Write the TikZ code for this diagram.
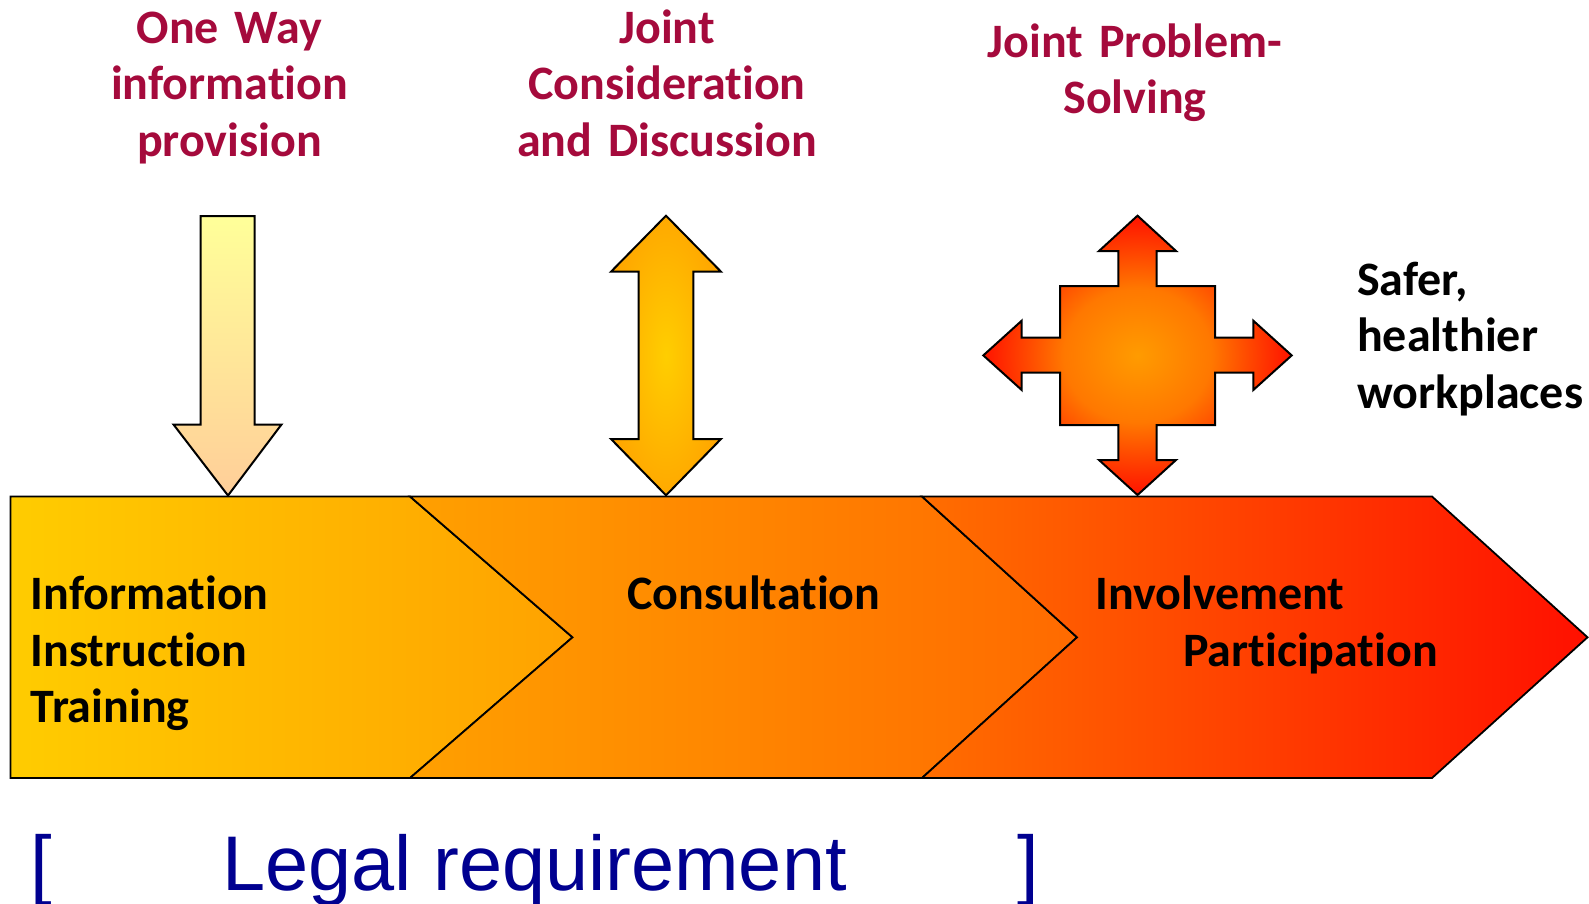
\documentclass[tikz,border=0pt]{standalone}
\usepackage{fontspec}
\setmainfont{Carlito}[Ligatures=CommonOff]
\newfontfamily\legalfont{Liberation Sans}
\definecolor{crimson}{HTML}{A50A3C}
\definecolor{navy}{HTML}{000090}
\pgfdeclareradialshading{consultglow}{\pgfpoint{0bp}{0bp}}{%
  color(0bp)=(rgb,255:red,255;green,206;blue,0);
  color(20bp)=(rgb,255:red,255;green,176;blue,0);
  color(35bp)=(rgb,255:red,255;green,155;blue,0);
  color(50bp)=(rgb,255:red,255;green,150;blue,0)}
\pgfdeclareradialshading{involveglow}{\pgfpoint{0bp}{0bp}}{%
  color(0bp)=(rgb,255:red,255;green,155;blue,0);
  color(12bp)=(rgb,255:red,255;green,120;blue,0);
  color(18bp)=(rgb,255:red,255;green,72;blue,0);
  color(24bp)=(rgb,255:red,255;green,26;blue,0);
  color(50bp)=(rgb,255:red,255;green,16;blue,0)}
\begin{document}
\begin{tikzpicture}[
  x=1pt, y=-1pt,
  chev/.style={draw=black, line width=1.8pt, line join=miter},
  arr/.style={draw=black, line width=2pt, line join=miter},
  toplbl/.style={font=\bfseries\fontsize{48}{56.7}\selectfont, text=crimson, align=center, text width=420pt, inner sep=0pt, anchor=base},
  bodytxt/.style={font=\bfseries\fontsize{48}{56.7}\selectfont, text=black, align=left, text width=420pt, inner sep=0pt, anchor=base west},
  legal/.style={font=\legalfont\fontsize{77.5}{90}\selectfont, text=navy, inner sep=0pt, anchor=base west}
]
\path[fill=white, use as bounding box] (0,0) rectangle (1589,904);

\draw[chev, left color={rgb,255:red,255;green,204;blue,0}, right color={rgb,255:red,255;green,162;blue,0}]
  (10.5,496.5) -- (410,496.5) -- (572.5,637.3) -- (410,778) -- (10.5,778) -- cycle;
\draw[chev, left color={rgb,255:red,255;green,160;blue,0}, right color={rgb,255:red,255;green,106;blue,0}]
  (410,496.5) -- (922,496.5) -- (1077,637.3) -- (922,778) -- (410,778) -- (572.5,637.3) -- cycle;
\draw[chev, left color={rgb,255:red,255;green,110;blue,0}, right color={rgb,255:red,255;green,16;blue,0}]
  (922,496.5) -- (1432,496.5) -- (1587.5,637.3) -- (1432,778) -- (922,778) -- (1077,637.3) -- cycle;

\draw[arr, top color={rgb,255:red,255;green,255;blue,153}, bottom color={rgb,255:red,255;green,206;blue,153}]
  (200.5,216) -- (254.5,216) -- (254.5,424.5) -- (281.5,424.5) -- (228,495.5)
  -- (173.5,424.5) -- (200.5,424.5) -- cycle;

\draw[arr, shading=consultglow]
  (666,215.7) -- (721,271.7) -- (693.3,271.7) -- (693.3,439) -- (721,439) -- (666,495.3)
  -- (611,439) -- (638.7,439) -- (638.7,271.7) -- (611,271.7) -- cycle;

\draw[arr, shading=involveglow]
  (1137.5,215.7) -- (1176,251) -- (1156.7,251) -- (1156.7,286) -- (1215,286) -- (1215,337.7)
  -- (1253.3,337.7) -- (1253.3,320.7) -- (1291.7,355.4) -- (1253.3,390) -- (1253.3,372.7)
  -- (1215,372.7) -- (1215,425) -- (1156.7,425) -- (1156.7,460) -- (1176,460) -- (1137.5,495)
  -- (1099,460) -- (1118.3,460) -- (1118.3,425) -- (1060,425) -- (1060,372.7) -- (1021.7,372.7)
  -- (1021.7,390) -- (983.3,355.4) -- (1021.7,320.7) -- (1021.7,337.7) -- (1060,337.7)
  -- (1060,286) -- (1118.3,286) -- (1118.3,251) -- (1099,251) -- cycle;

\node[toplbl] (oneway) at (229.5,43.3) {One Way\\information\\provision};
\node[toplbl] (jointcons) at (667,43.3) {Joint\\Consideration\\and Discussion};
\node[toplbl] (jointsolv) at (1135,57.3) {Joint Problem-\\Solving};

\node[bodytxt] (iit) at (30.5,609.3) {Information\\Instruction\\Training};
\node[bodytxt] (consult) at (627,609.3) {Consultation};
\node[bodytxt] (involve) at (1095,609.3) {Involvement\\\hspace*{88pt}Participation};
\node[bodytxt] (safer) at (1357,295) {Safer,\\healthier\\workplaces};

\node[legal] (lbrack) at (30,890.7) {[};
\node[legal] (legalreq) at (222,890.7) {Legal requirement};
\node[legal] (rbrack) at (1017,890.7) {]};
\end{tikzpicture}
\end{document}
